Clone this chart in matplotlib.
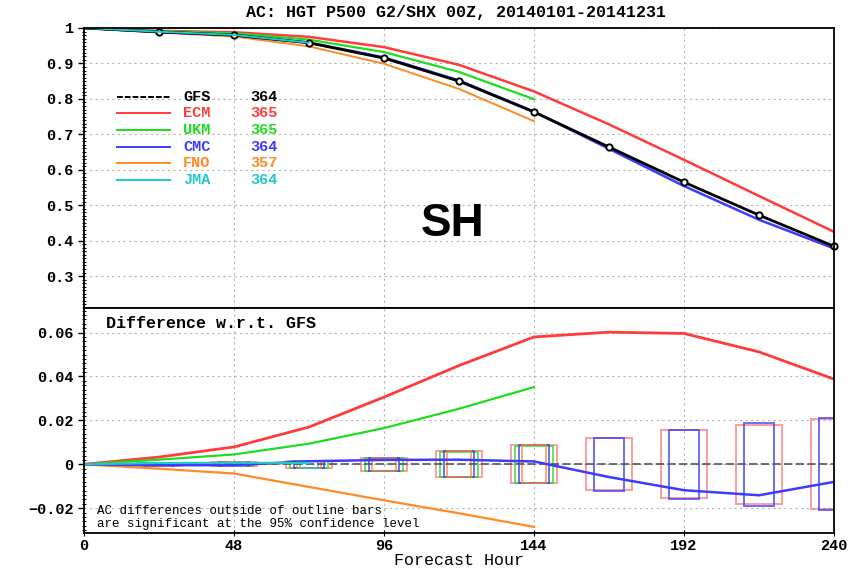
import matplotlib
matplotlib.use('Agg')
import matplotlib.pyplot as plt
from matplotlib.patches import Rectangle
from matplotlib.ticker import MultipleLocator

# forecast hours
HOURS = [0, 24, 48, 72, 96, 120, 144, 168, 192, 216, 240]

# anomaly correlation, top panel
AC_GFS = [1.0, 0.989, 0.980, 0.958, 0.915, 0.850, 0.763, 0.664, 0.565, 0.472, 0.384]
AC_ECM = [1.0, 0.992, 0.988, 0.975, 0.946, 0.896, 0.821, 0.728, 0.628, 0.526, 0.425]
AC_UKM = [1.0, 0.991, 0.985, 0.967, 0.932, 0.876, 0.799]
AC_CMC = [1.0, 0.9885, 0.9795, 0.959, 0.917, 0.852, 0.764, 0.659, 0.554, 0.459, 0.378]
AC_FNO = [1.0, 0.987, 0.976, 0.948, 0.899, 0.828, 0.737]
AC_JMA = [1.0, 0.9895, 0.9805, 0.9585]

# difference w.r.t. GFS, bottom panel
DIFF_ECM = [0, 0.0033, 0.0079, 0.0170, 0.0306, 0.0450, 0.0580, 0.0602, 0.0596, 0.0512, 0.0388]
DIFF_UKM = [0, 0.0021, 0.0045, 0.0094, 0.0165, 0.0253, 0.0352]
DIFF_CMC = [0, -0.0004, -0.0004, 0.0014, 0.0020, 0.0021, 0.0013, -0.0058, -0.0118, -0.0141, -0.0080]
DIFF_FNO = [0, -0.0020, -0.0042, -0.0103, -0.0164, -0.0223, -0.0285]
DIFF_JMA = [0, 0.0006, 0.0007, 0.0006]

# 95% confidence half-heights, from hour 24 on
CI_ECM = [0.0006, 0.0009, 0.0017, 0.0031, 0.0060, 0.0087, 0.0118, 0.0155, 0.0180, 0.0205]
CI_UKM = [0.0005, 0.0008, 0.0016, 0.0029, 0.0058, 0.0085]
CI_CMC = [0.0006, 0.0009, 0.0017, 0.0031, 0.0060, 0.0087, 0.0120, 0.0158, 0.0190, 0.0210]
CI_FNO = [0.0006, 0.0009, 0.0017, 0.0030, 0.0059, 0.0086]
CI_JMA = [0.0005, 0.0008, 0.0016]

MODELS = ['GFS', 'ECM', 'UKM', 'CMC', 'FNO', 'JMA']
COUNTS = [364, 365, 365, 364, 357, 364]

TOP_TICKS = [0.3, 0.4, 0.5, 0.6, 0.7, 0.8, 0.9, 1.0]
TOP_LABELS = ['0.3', '0.4', '0.5', '0.6', '0.7', '0.8', '0.9', '1']
BOT_TICKS = [-0.02, 0, 0.02, 0.04, 0.06]
BOT_LABELS = ['\u22120.02', '0', '0.02', '0.04', '0.06']
X_TICKS = [0, 48, 96, 144, 192, 240]

COLORS = {'GFS': 'black', 'ECM': '#ff3b3b', 'UKM': '#1fdc1f',
          'CMC': '#3c3cff', 'FNO': '#ff8a26', 'JMA': '#20c8c8'}

MONO = 'Liberation Mono'


def style_axis(ax):
    """
    Dotted grid, mono bold tick labels.
    """
    ax.set_xlim(0, 240)
    ax.set_xticks(X_TICKS)
    ax.grid(True, color='#b5b5b5', linestyle=(0, (2, 3)), linewidth=0.8)
    ax.set_axisbelow(True)
    for sp in ax.spines.values():
        sp.set_linewidth(1.3)
    ax.tick_params(axis='y', direction='out', length=4, width=1)
    ax.tick_params(axis='y', which='minor', direction='inout', length=3, width=0.7)
    for lab in ax.get_yticklabels() + ax.get_xticklabels():
        lab.set_fontfamily(MONO)
        lab.set_fontweight('bold')
        lab.set_fontsize(11)


def plot_top(ax):
    hrs = HOURS
    ax.plot(hrs, AC_ECM, color=COLORS['ECM'], lw=1.8)
    ax.plot(hrs[:len(AC_UKM)], AC_UKM, color=COLORS['UKM'], lw=1.6)
    ax.plot(hrs[:len(AC_FNO)], AC_FNO, color=COLORS['FNO'], lw=1.4)
    ax.plot(hrs, AC_CMC, color=COLORS['CMC'], lw=1.8)
    ax.plot(hrs, AC_GFS, color='black', lw=2.0)
    ax.plot(hrs[1:], AC_GFS[1:], 'o', mfc='white', mec='black', ms=4.5, mew=1.4,
            clip_on=False)
    ax.plot(hrs[:len(AC_JMA)], AC_JMA, color=COLORS['JMA'], lw=1.4)

    ax.set_ylim(0.21, 1.0)
    ax.set_yticks(TOP_TICKS)
    ax.set_yticklabels(TOP_LABELS)
    ax.yaxis.set_minor_locator(MultipleLocator(0.01))
    style_axis(ax)
    ax.tick_params(axis='x', length=0, labelbottom=False)

    # legend drawn by hand like the GrADS one
    for i, (name, n) in enumerate(zip(MODELS, COUNTS)):
        y = 0.754 - i * 0.0593
        c = COLORS[name]
        ls = (0, (3, 1)) if name == 'GFS' else '-'
        ax.plot([0.044, 0.115], [y, y], color=c, lw=1.4, ls=ls,
                transform=ax.transAxes)
        ax.text(0.132, y, name, color=c, transform=ax.transAxes, va='center',
                family=MONO, weight='bold', fontsize=11)
        ax.text(0.222, y, str(n), color=c, transform=ax.transAxes, va='center',
                family=MONO, weight='bold', fontsize=11)

    ax.text(118, 0.446, 'SH', ha='center', va='center', fontsize=33,
            weight='bold', family='Liberation Sans')


def draw_boxes(ax, ci, half_w, color, alpha):
    for h, c in zip(HOURS[1:], ci):
        ax.add_patch(Rectangle((h - half_w, -c), 2 * half_w, 2 * c, fill=False,
                               edgecolor=color, lw=1.4, alpha=alpha))


def plot_bottom(ax):
    ax.axhline(0, color='#555555', lw=1.2, ls=(0, (5, 2)))

    draw_boxes(ax, CI_ECM, 7.4, COLORS['ECM'], 0.5)
    draw_boxes(ax, CI_UKM, 6.0, COLORS['UKM'], 0.7)
    draw_boxes(ax, CI_CMC, 4.8, COLORS['CMC'], 0.75)
    draw_boxes(ax, CI_FNO, 3.8, COLORS['FNO'], 0.7)
    draw_boxes(ax, CI_JMA, 2.8, COLORS['JMA'], 0.7)

    hrs = HOURS
    ax.plot(hrs, DIFF_ECM, color=COLORS['ECM'], lw=2.0)
    ax.plot(hrs[:len(DIFF_UKM)], DIFF_UKM, color=COLORS['UKM'], lw=1.6)
    ax.plot(hrs[:len(DIFF_FNO)], DIFF_FNO, color=COLORS['FNO'], lw=1.6)
    ax.plot(hrs, DIFF_CMC, color=COLORS['CMC'], lw=1.8)
    ax.plot(hrs[:len(DIFF_JMA)], DIFF_JMA, color=COLORS['JMA'], lw=1.5)

    ax.set_ylim(-0.0313, 0.0712)
    ax.set_yticks(BOT_TICKS)
    ax.set_yticklabels(BOT_LABELS)
    ax.yaxis.set_minor_locator(MultipleLocator(0.002))
    style_axis(ax)
    ax.tick_params(axis='x', direction='inout', length=5, pad=2)

    ax.text(0.03, 0.93, 'Difference w.r.t. GFS', transform=ax.transAxes,
            va='center', family=MONO, weight='bold', fontsize=12)
    ax.text(0.017, 0.098, 'AC differences outside of outline bars',
            transform=ax.transAxes, va='center', family=MONO, fontsize=9)
    ax.text(0.017, 0.04, 'are significant at the 95% confidence level',
            transform=ax.transAxes, va='center', family=MONO, fontsize=9)
    ax.set_xlabel('Forecast Hour', family=MONO, fontsize=12, labelpad=0)


def main():
    fig = plt.figure(figsize=(8.65, 5.71), dpi=100)
    ax1 = fig.add_axes([0.0971, 0.4606, 0.8671, 0.4904])
    ax2 = fig.add_axes([0.0971, 0.0665, 0.8671, 0.3941])

    plot_top(ax1)
    plot_bottom(ax2)

    fig.text(0.527, 0.978, 'AC: HGT P500 G2/SHX 00Z, 20140101-20141231',
             ha='center', va='center', family=MONO, weight='bold', fontsize=12)

    fig.savefig('out.png', dpi=100)


if __name__ == '__main__':
    main()
